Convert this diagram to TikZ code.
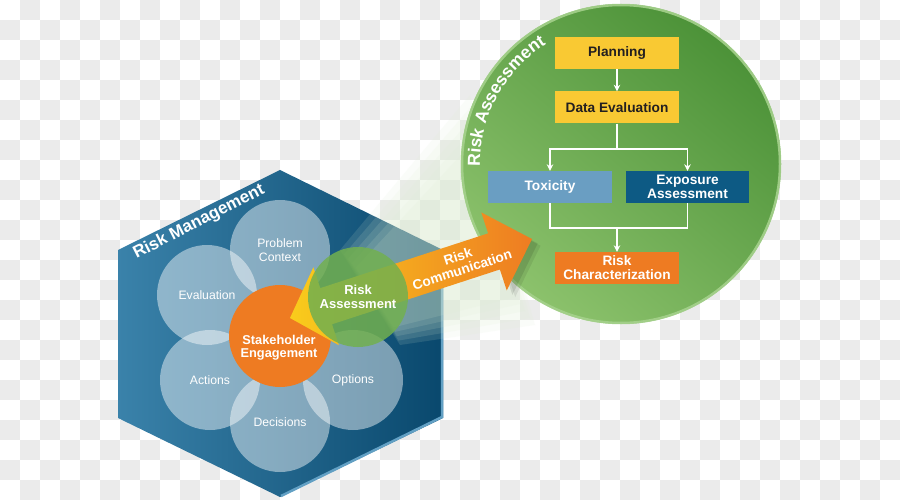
\documentclass[tikz,border=0pt]{standalone}
\usepackage{fontspec}
\setmainfont{Liberation Sans}
\usetikzlibrary{arrows.meta,decorations.text,shadings}

\definecolor{chk}{HTML}{EBEBEB}
\definecolor{hexdark}{HTML}{09486D}
\definecolor{hexmid}{HTML}{0F5A84}
\definecolor{hexlight}{HTML}{3A82AA}
\definecolor{rimblue}{HTML}{62A0C4}
\definecolor{seorange}{HTML}{EE7B22}
\definecolor{ragreen}{HTML}{72B04F}
\definecolor{bigdark}{HTML}{4C9238}
\definecolor{biglight}{HTML}{8CC26C}
\definecolor{bigrim}{HTML}{A5D18C}
\definecolor{boxyellow}{HTML}{F9C933}
\definecolor{boxlblue}{HTML}{6A9EC2}
\definecolor{boxdblue}{HTML}{0D5A84}
\definecolor{boxorange}{HTML}{EE7B22}
\definecolor{txtdark}{HTML}{231F20}
\definecolor{arryellow}{HTML}{F9CC1C}
\definecolor{arrorange}{HTML}{EE7C22}
\definecolor{glowgreen}{HTML}{DCEDD2}

\begin{document}
\begin{tikzpicture}[x=1pt,y=-1pt,
  petal/.style={circle, minimum size=100pt, inner sep=0pt, fill=white, fill opacity=0.45,
    text opacity=1, text=white, font=\fontsize{12.2}{13.4}\selectfont, align=center},
  fbox/.style={rectangle, minimum width=124pt, minimum height=32pt, inner sep=0pt,
    align=center, font=\fontsize{13.7}{14}\selectfont\bfseries},
  conn/.style={draw=white, line width=1.4pt},
  arr/.style={conn, -{Stealth[length=6.5pt,width=6.5pt]}},
  titletext/.style={text=white, font=\fontsize{17}{17}\selectfont\bfseries},
  boldwhite/.style={text=white, align=center, font=\fontsize{13}{13.6}\selectfont\bfseries},
  glowlayer/.style={fill=glowgreen, fill opacity=0.13}
]
% background checkerboard
\fill[white] (0,0) rectangle (900,500);
\useasboundingbox (0,0) rectangle (900,500);
\foreach \i in {0,...,44}{\foreach \j in {0,...,24}{%
  \pgfmathtruncatemacro\k{\i+\j}\ifodd\k\fill[chk] (\i*20,\j*20) rectangle ++(20,20);\fi}}

% hexagon
\shade[left color=hexlight, middle color=hexmid, right color=hexdark]
  (280,170) -- (443,250) -- (443,418) -- (280,497) -- (118,418) -- (118,250) -- cycle;
\draw[rimblue, line width=2.5pt] (442,251) -- (442,417) -- (281,496);

% soft glow between the small and the big circle
\foreach \t in {0,0.2,0.4,0.6,0.8}{
  \fill[glowlayer]
    ({340+\t*20},{250+\t*22}) -- ({470+\t*12},{95+\t*50})
    -- ({535-\t*25},{325-\t*35}) -- ({400-\t*8},{345-\t*22}) -- cycle;
}

% big risk assessment circle
\shade[shading=axis, top color=bigdark, bottom color=biglight, shading angle=-40]
  (621,164) circle (160);
\draw[bigrim, line width=2.5pt, draw opacity=0.9] (621,164) circle (159);

% flowchart
\node[fbox, fill=boxyellow, text=txtdark] (plan) at (617,53) {Planning};
\node[fbox, fill=boxyellow, text=txtdark] (deval) at (617,107.5) {Data Evaluation};
\node[fbox, fill=boxlblue, text=white] (tox) at (550,187) {Toxicity};
\node[fbox, fill=boxdblue, text=white, minimum width=123pt] (expo) at (687.5,187) {Exposure\\Assessment};
\node[fbox, fill=boxorange, text=white] (rchar) at (617,268) {Risk\\Characterization};
\coordinate (split) at (617,149);
\coordinate (join) at (617,228);
\draw[arr] (plan.south) -- (deval.north);
\draw[conn] (deval.south) -- (split);
\draw[arr] (split) -| (tox.north);
\draw[arr] (split) -| (expo.north);
\draw[conn] (tox.south) |- (join) -| (expo.south);
\draw[arr] (join) -- (rchar.north);

% curved title
\path[decorate, decoration={text along path, text align=center,
  text={|\fontsize{17.5}{17.5}\selectfont\bfseries\color{white}|Risk Assessment}}]
  (621,164) ++(-190:141) arc (-190:-113:141);

% petals
\node[petal] (prob) at (280,250) {Problem\\Context};
\node[petal] (eval) at (207,295) {Evaluation};
\node[petal] (act) at (210,380) {Actions};
\node[petal] (dec) at (280,422) {Decisions};
\node[petal] (opt) at (353,380) {Options};

% stakeholder engagement
\node[circle, minimum size=102pt, inner sep=0pt, fill=seorange] (stake) at (280,336) {};
\node[boldwhite, font=\fontsize{12.8}{13.4}\selectfont\bfseries] (staketxt) at (279,348) {Stakeholder\\Engagement};

% risk communication arrow
\begin{scope}[shift={(290,318)}, rotate=18.08]
  \fill[black, fill opacity=0.10] (218.6,-35) -- (258.6,6) -- (218.6,47) -- cycle;
  \fill[black, fill opacity=0.08] (220.6,-31) -- (260.6,9) -- (220.6,50) -- cycle;
  \shade[left color=arryellow, right color=arrorange]
    (0,0) -- (38,-41) -- (38,-19) -- (214.6,-19) -- (214.6,-41) -- (254.6,0)
    -- (214.6,41) -- (214.6,19) -- (38,19) -- (38,41) -- cycle;
\end{scope}

% small risk assessment circle
\node[circle, minimum size=100pt, inner sep=0pt, fill=ragreen, fill opacity=0.85,
  text opacity=1, boldwhite] (ra) at (358,297) {Risk\\Assessment};

% arrow label
\node[boldwhite, font=\fontsize{13.7}{14}\selectfont\bfseries, rotate=18] (comm) at (460,263) {Risk\\Communication};

% risk management title
\node[titletext, anchor=base, rotate=27] (rmtitle) at (201,226) {Risk Management};
\end{tikzpicture}
\end{document}
